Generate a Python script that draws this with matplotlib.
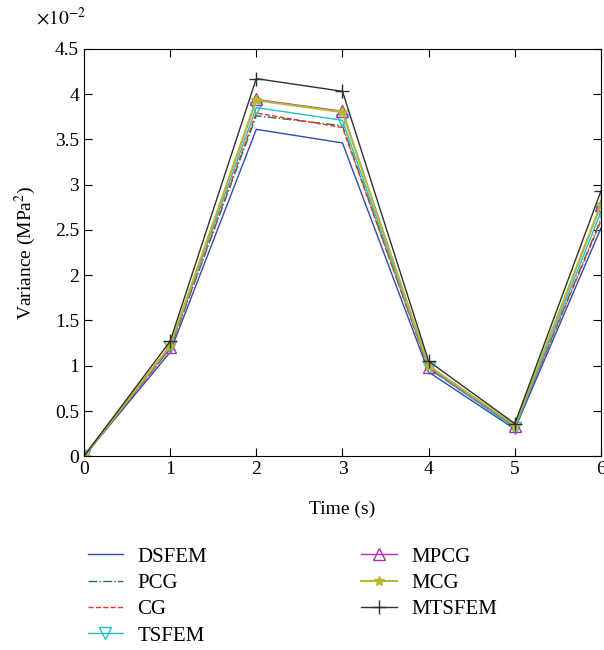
import matplotlib
matplotlib.use("Agg")
from matplotlib import pyplot as plt

# Data (values in units of 1e-2 MPa^2)
times = [0, 1, 2, 3, 4, 5, 6]
dsfem = [0, 1.15, 3.61, 3.46, 0.93, 0.30, 2.52]
pcg = [0, 1.19, 3.76, 3.65, 0.97, 0.32, 2.62]
cg = [0, 1.19, 3.79, 3.63, 0.97, 0.32, 2.60]
tsfem = [0, 1.21, 3.85, 3.71, 0.98, 0.31, 2.70]
mpcg = [0, 1.21, 3.94, 3.81, 0.99, 0.33, 2.78]
mcg = [0, 1.22, 3.93, 3.80, 1.00, 0.34, 2.78]
mtsfem = [0, 1.27, 4.17, 4.03, 1.05, 0.36, 2.93]

plt.rcParams['font.family'] = ['Liberation Serif', 'DejaVu Serif']
plt.rcParams['mathtext.fontset'] = 'stix'

fig = plt.figure(figsize=(6.04, 6.5), dpi=100)
ax = fig.add_axes([0.139, 0.298, 0.856, 0.627])

ax.plot(times, dsfem, c='#2a4cb0', lw=1, label='DSFEM')
ax.plot(times, pcg, c='#1f7a3c', lw=1, ls='-.', label='PCG')
ax.plot(times, cg, c='#f03030', lw=1, ls='--', label='CG')
ax.plot(times, tsfem, c='#20c0c8', lw=1, marker='v', ms=8, mfc='none', label='TSFEM')
ax.plot(times, mpcg, c='#b030b0', lw=1, marker='^', ms=8, mfc='none', label='MPCG')
ax.plot(times, mcg, c='#b8b830', lw=1.5, marker='*', ms=7, label='MCG')
ax.plot(times, mtsfem, c='#303030', lw=1, marker='+', ms=10, label='MTSFEM')

ax.set_xlim(0, 6)
ax.set_ylim(0, 4.5)
ax.set_xticks(times)
ax.set_yticks([0, 0.5, 1, 1.5, 2, 2.5, 3, 3.5, 4, 4.5])
ax.set_yticklabels(['0', '0.5', '1', '1.5', '2', '2.5', '3', '3.5', '4', '4.5'])
ax.tick_params(direction='in', top=True, right=True, labelsize=14, length=6)
ax.set_xlabel('Time (s)', fontsize=14, labelpad=16)
ax.set_ylabel('Variance (MPa$^2$)', fontsize=14, labelpad=12)
ax.text(0.005, 1.059, r'$\times10^{-2}$', transform=ax.transAxes, ha='right',
        va='baseline', fontsize=14)

fig.legend(loc='upper left', bbox_to_anchor=(0.114, 0.187), ncol=2, frameon=False,
           fontsize=15, handlelength=1.7, handletextpad=0.7, columnspacing=7.4,
           labelspacing=0.32)

fig.savefig('out.png', dpi=100)
